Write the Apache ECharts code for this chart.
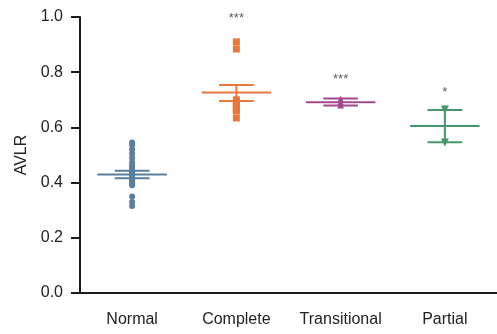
<!DOCTYPE html>
<html>
<head>
<meta charset="utf-8">
<script src="https://cdn.jsdelivr.net/npm/echarts@6/dist/echarts.min.js"></script>
<style>
html, body { margin: 0; padding: 0; background: #fff; }
#chart { width: 497px; height: 334px; }
</style>
</head>
<body>
<div id="chart"></div>
<script>
var categories = ['Normal', 'Complete', 'Transitional', 'Partial'];
var yTicks = [0, 0.2, 0.4, 0.6, 0.8, 1.0];

// individual values per group
var normalVals = [0.545, 0.535, 0.52, 0.505, 0.49, 0.475, 0.465, 0.458, 0.45, 0.443, 0.437,
    0.43, 0.425, 0.42, 0.415, 0.41, 0.405, 0.40, 0.395, 0.39, 0.35, 0.33, 0.315];
var completeVals = [0.91, 0.884, 0.70, 0.69, 0.68, 0.672, 0.665, 0.66, 0.634];
var transitionalVals = [0.702, 0.690, 0.681];
var partialVals = [0.665, 0.545];

// mean and sem
var means = [0.429, 0.726, 0.691, 0.605];
var semLow = [0.416, 0.696, 0.679, 0.546];
var semHigh = [0.443, 0.754, 0.705, 0.663];

// significance marks
var sigText = ['', '***', '***', '*'];
var sigY = [0, 0.995, 0.775, 0.725];

var colors = ['#587f9d', '#e8793d', '#a3488f', '#45966a'];
var symbols = ['circle', 'rect', 'triangle', 'triangle'];
var sizes = [6, 7, 7, 8];
var rotates = [0, 0, 0, 180];

var groups = [normalVals, completeVals, transitionalVals, partialVals];

var series = [];
groups.forEach(function (vals, i) {
    series.push({
        name: categories[i],
        type: 'scatter',
        symbol: symbols[i],
        symbolSize: sizes[i],
        symbolRotate: rotates[i],
        itemStyle: { color: colors[i], opacity: 1 },
        data: vals.map(function (v) { return [i, v]; }),
        z: 2
    });
});

series.push({
    type: 'custom',
    z: 3,
    renderItem: function (params, api) {
        var i = api.value(0);
        var pm = api.coord([i, api.value(1)]);
        var pl = api.coord([i, api.value(2)]);
        var ph = api.coord([i, api.value(3)]);
        var bw = api.size([1, 0])[0];
        var st = { stroke: colors[i], lineWidth: 2 };
        return {
            type: 'group',
            children: [
                { type: 'line', shape: { x1: pm[0] - bw / 3, y1: pm[1], x2: pm[0] + bw / 3, y2: pm[1] }, style: st },
                { type: 'line', shape: { x1: pl[0] - bw / 6, y1: pl[1], x2: pl[0] + bw / 6, y2: pl[1] }, style: st },
                { type: 'line', shape: { x1: ph[0] - bw / 6, y1: ph[1], x2: ph[0] + bw / 6, y2: ph[1] }, style: st },
                { type: 'line', shape: { x1: pm[0], y1: ph[1], x2: pm[0], y2: pl[1] }, style: st }
            ]
        };
    },
    data: means.map(function (m, i) { return [i, m, semLow[i], semHigh[i]]; })
});

series.push({
    type: 'scatter',
    symbolSize: 0,
    silent: true,
    label: {
        show: true,
        position: 'inside',
        color: '#333',
        fontSize: 13,
        fontFamily: 'Liberation Sans',
        formatter: function (p) { return sigText[p.dataIndex]; }
    },
    data: sigY.map(function (y, i) { return [i, y]; })
});

var option = {
    animation: false,
    grid: {
        left: 80,
        top: 17,
        width: 420,
        bottom: 41
    },
    xAxis: {
        type: 'category',
        data: categories,
        boundaryGap: true,
        axisLine: { lineStyle: { color: '#1a1a1a', width: 2 } },
        axisTick: { alignWithLabel: true, length: 7, lineStyle: { color: '#1a1a1a', width: 2 } },
        axisLabel: { interval: 0, color: '#222', fontSize: 16, fontFamily: 'Liberation Sans', margin: 19 },
        splitLine: { show: false }
    },
    yAxis: {
        type: 'value',
        min: 0,
        max: 1,
        interval: 0.2,
        name: 'AVLR',
        nameLocation: 'middle',
        nameGap: 50,
        nameTextStyle: { color: '#222', fontSize: 16, fontFamily: 'Liberation Sans' },
        axisLine: { show: true, lineStyle: { color: '#1a1a1a', width: 2 } },
        axisTick: { show: true, length: 9, lineStyle: { color: '#1a1a1a', width: 2 } },
        axisLabel: {
            color: '#222', fontSize: 16, fontFamily: 'Liberation Sans', margin: 17,
            formatter: function (v) { return v.toFixed(1); }
        },
        splitLine: { show: false }
    },
    series: series
};

var myChart = echarts.init(document.getElementById('chart'));
myChart.setOption(option);
</script>
</body>
</html>
